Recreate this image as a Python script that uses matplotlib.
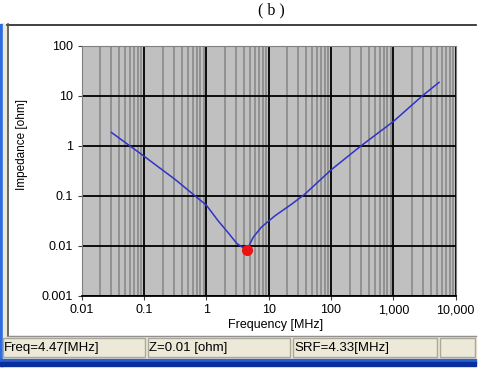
import numpy as np
import matplotlib
matplotlib.use("Agg")
import matplotlib.pyplot as plt
from matplotlib.patches import Rectangle
from matplotlib.ticker import FixedLocator, FixedFormatter, LogLocator, NullFormatter

plt.rcParams['font.family'] = ['Liberation Sans', 'DejaVu Sans']

# impedance curve
freq_mhz = [0.03, 0.1, 0.32, 1.0, 1.57, 2.27, 3.08, 4.47, 5.03, 5.68, 7.7, 12.6,
            23.2, 37.9, 100, 303, 1000, 2925, 5400]
impedance = [1.85, 0.62, 0.21, 0.065, 0.031, 0.018, 0.0112, 0.0082, 0.0112, 0.0151, 0.024, 0.04,
             0.068, 0.108, 0.33, 1.0, 3.06, 10, 18.5]

# marked point (SRF)
marker_freq = [4.47]
marker_z = [0.0082]

x_ticks = [0.01, 0.1, 1, 10, 100, 1000, 10000]
x_labels = ["0.01", "0.1", "1", "10", "100", "1,000", "10,000"]
y_ticks = [0.001, 0.01, 0.1, 1, 10, 100]
y_labels = ["0.001", "0.01", "0.1", "1", "10", "100"]

status_texts = ["Freq=4.47[MHz]", "Z=0.01 [ohm]", "SRF=4.33[MHz]", ""]

W, H = 483, 373
fig = plt.figure(figsize=(W / 100, H / 100), dpi=100)

# background layer in pixel coordinates for the window frame
bg = fig.add_axes([0, 0, 1, 1], zorder=-1)
bg.set_xlim(0, W)
bg.set_ylim(H, 0)
bg.axis("off")

bg.text(271, 10, "( b )", ha="center", va="center", fontsize=11.5, family="Liberation Serif")

# left blue edge of window
bg.add_patch(Rectangle((0, 24), 3, 342, color="#2d6be0"))
bg.add_patch(Rectangle((3, 24), 4, 312, color="#ece9d8"))
# panel border
bg.plot([7, 476], [24.5, 24.5], color="#202020", lw=1.2)
bg.plot([7.5, 7.5], [24, 336], color="#505050", lw=1.2)
bg.plot([7, 476], [335.5, 335.5], color="#909090", lw=1)

# status bar
bg.add_patch(Rectangle((3, 336), 473, 23, color="#ece9d8"))
sections = [(3, 145), (148, 290), (293, 437), (440, 475)]
for (x0, x1), txt in zip(sections, status_texts):
    bg.add_patch(Rectangle((x0, 338), x1 - x0, 19, facecolor="none",
                           edgecolor="#aca899", lw=1))
    bg.text(x0 + 1, 347.5, txt, ha="left", va="center", fontsize=9.5, color="#000000")
# blue title bar of next element
bg.add_patch(Rectangle((0, 359), 476, 4, color="#2a5fd0"))
bg.add_patch(Rectangle((0, 362), 476, 4, color="#0b2f9a"))

bg.text(22, 144, "Impedance [ohm]", rotation=90, ha="center", va="center", fontsize=8.5)
bg.text(276, 325, "Frequency [MHz]", ha="center", va="center", fontsize=9)

# plot area
left, right, top, bottom = 81.7, 455.7, 45.7, 296
ax = fig.add_axes([left / W, 1 - bottom / H, (right - left) / W, (bottom - top) / H])
ax.set_facecolor("#c0c0c0")
ax.set_xscale("log")
ax.set_yscale("log")
ax.set_xlim(0.01, 10000)
ax.set_ylim(0.001, 100)

ax.xaxis.set_major_locator(FixedLocator(x_ticks))
ax.xaxis.set_major_formatter(FixedFormatter(x_labels))
ax.xaxis.set_minor_locator(LogLocator(base=10, subs=np.arange(2, 10)))
ax.xaxis.set_minor_formatter(NullFormatter())
ax.yaxis.set_major_locator(FixedLocator(y_ticks))
ax.yaxis.set_major_formatter(FixedFormatter(y_labels))
ax.yaxis.set_minor_locator(FixedLocator([]))

ax.grid(True, which="minor", axis="x", color="#858585", lw=1.1)
ax.grid(True, which="major", color="#000000", lw=1.3)
ax.set_axisbelow(True)

ax.tick_params(which="major", length=3, width=0.8, labelsize=9, pad=3, color="#404040")
ax.tick_params(which="minor", length=0)
for s in ["top", "right", "left"]:
    ax.spines[s].set_color("#808080")
ax.spines["bottom"].set_color("#000000")
ax.spines["bottom"].set_linewidth(1.3)

ax.plot(freq_mhz, impedance, color="#3232c8", lw=1.1)
ax.plot(marker_freq, marker_z, "o", color="#ee1111", markersize=7, zorder=5)

fig.savefig("out.png", dpi=100)
